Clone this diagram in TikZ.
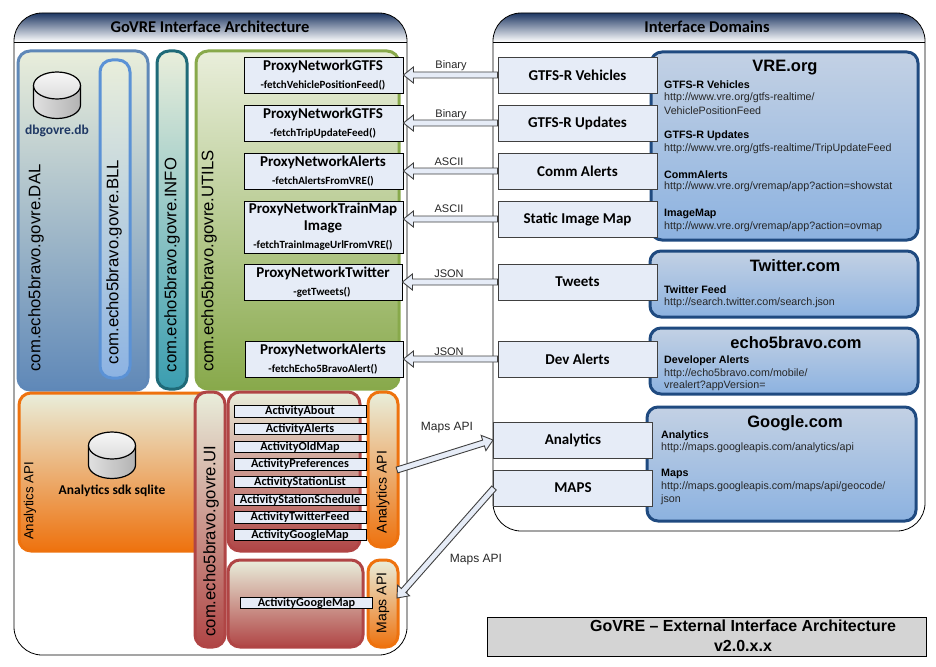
\documentclass[tikz,border=0pt]{standalone}
\usepackage{fontspec}
\setmainfont{Liberation Sans}
\newfontfamily\calfont{Carlito}
\usetikzlibrary{calc,positioning}
\newcommand{\fs}[1]{\fontsize{#1}{#1}\selectfont}
\definecolor{headdark}{HTML}{1F3864}
\definecolor{bluetop}{HTML}{E9EEDB}
\definecolor{dalblue}{HTML}{5F88B8}
\definecolor{bllblue}{HTML}{5B92D6}
\definecolor{tealb}{HTML}{1F6A78}
\definecolor{tealf}{HTML}{3A9DB0}
\definecolor{oliveb}{HTML}{88A94B}
\definecolor{orangeb}{HTML}{EE720E}
\definecolor{redb}{HTML}{B04545}
\definecolor{domb}{HTML}{1F4A80}
\definecolor{domt}{HTML}{C3D1E4}
\definecolor{domf}{HTML}{8CB2E0}
\definecolor{boxf}{HTML}{E6ECF7}
\tikzset{
 x=1pt,y=-1pt,
 panel/.style={draw=black,line width=.8pt,fill=white},
 pkgbox/.style 2 args={draw=#1,line width=3pt,rounded corners=12pt,top color=bluetop,bottom color=#2},
 pkglabel/.style={rotate=90,inner sep=0pt,font=\fs{16.7}},
 apilabel/.style={rotate=90,inner sep=0pt,font=\fs{14}},
 classbox/.style={draw=black,line width=.9pt,fill=boxf,inner sep=0pt},
 classname/.style={inner sep=0pt,font=\calfont\bfseries\fs{15}},
 methodtext/.style={inner sep=0pt,font=\calfont\bfseries\fs{11}},
 actbox/.style={classbox,minimum width=132pt,minimum height=11.5pt,font=\calfont\bfseries\fs{12.2}},
 ifacebox/.style={classbox,draw=black!75,minimum width=159pt,minimum height=36pt,font=\calfont\bfseries\fs{15}},
 domainbox/.style={draw=domb,line width=3pt,rounded corners=11pt,top color=domt,bottom color=domf},
 domtitle/.style={inner sep=0pt,font=\bfseries\fs{16.5}},
 domhead/.style={inner sep=0pt,anchor=west,yshift=-1pt,font=\bfseries\fs{10.7}},
 domurl/.style={inner sep=0pt,anchor=west,yshift=-1pt,font=\fs{10.7},text=black!85},
 flowtext/.style={inner sep=0pt,yshift=-1pt,font=\fs{11},text=black!85},
 mapflow/.style={inner sep=0pt,yshift=-1pt,font=\fs{12},text=black!85},
 arrowbody/.style={draw=black!75,line width=.9pt,fill=boxf,line join=miter},
 headtext/.style={inner sep=0pt,font=\calfont\bfseries\fs{16.5}},
}
\newcommand{\blockarrow}[2]{%
 \coordinate (neck) at ($(#2)!10pt!(#1)$);
 \draw[arrowbody] ($(#1)!3pt!90:(#2)$) -- ($(neck)!3pt!-90:(#1)$) -- ($(neck)!8pt!-90:(#1)$) -- (#2)
  -- ($(neck)!8pt!90:(#1)$) -- ($(neck)!3pt!90:(#1)$) -- ($(#1)!3pt!-90:(#2)$) -- cycle;
}
\newcommand{\dbcyl}[2]{% centre x, top y
 \shade[left color=black!12,right color=black!30] (#1-23.5,#2+13.5) -- (#1-23.5,#2+33) arc[start angle=180,end angle=360,x radius=23.5pt,y radius=13.5pt] -- (#1+23.5,#2+13.5) -- cycle;
 \draw[line width=1.2pt] (#1-23.5,#2+13.5) -- (#1-23.5,#2+33) arc[start angle=180,end angle=360,x radius=23.5pt,y radius=13.5pt] -- (#1+23.5,#2+13.5);
 \shade[top color=black!3,bottom color=black!14,draw=black,line width=1.2pt] (#1,#2+13.5) ellipse[x radius=23.5pt,y radius=13.5pt];
}
\begin{document}
\begin{tikzpicture}
\useasboundingbox (0,0) rectangle (936,666);
% panels
\draw[panel,rounded corners=28pt] (14,42) -- (14,655) -- (407,655) -- (407,42);
\draw[panel,rounded corners=28pt] (493,42) -- (493,531) -- (925,531) -- (925,42);
\shade[top color=headdark,bottom color=white,draw=black,line width=.8pt,rounded corners=28pt] (14,42) -- (14,13) -- (407,13) -- (407,42);
\shade[top color=headdark,bottom color=white,draw=black,line width=.8pt,rounded corners=28pt] (493,42) -- (493,13) -- (925,13) -- (925,42);
\draw[line width=.8pt] (14,42) -- (407,42) (493,42) -- (925,42);
\node[headtext] (h1) at (210,27) {GoVRE Interface Architecture};
\node[headtext] (h2) at (707,27) {Interface Domains};
% packages
\draw[pkgbox={dalblue}{dalblue}] (18,51) rectangle (148,390);
\draw[pkgbox={bllblue}{bllblue!70}] (100,60) rectangle (130,378);
\draw[pkgbox={tealb}{tealf}] (157,51) rectangle (187,389);
\draw[pkgbox={oliveb}{oliveb}] (196,51) rectangle (399,389);
\draw[orangeb,line width=3pt,rounded corners=12pt,top color=bluetop,bottom color=orangeb] (19,393) rectangle (215,551);
\draw[pkgbox={redb}{redb}] (195,392) rectangle (225,647);
\draw[pkgbox={redb}{redb}] (228,392) rectangle (360,551);
\draw[pkgbox={redb}{redb}] (228,560) rectangle (363,647);
\draw[pkgbox={orangeb}{orangeb}] (368,392) rectangle (398,547);
\draw[pkgbox={orangeb}{orangeb}] (368,560) rectangle (398,647);
\node[pkglabel] (ldal) at (36,268) {com.echo5bravo.govre.DAL};
\node[pkglabel] (lbll) at (114,262) {com.echo5bravo.govre.BLL};
\node[pkglabel] (linfo) at (172,265) {com.echo5bravo.govre.INFO};
\node[pkglabel] (lutils) at (209,261) {com.echo5bravo.govre.UTILS};
\node[pkglabel] (lui) at (211,541) {com.echo5bravo.govre.UI};
\node[apilabel,font=\fs{13.2}] (a1) at (30,501) {Analytics API};
\node[apilabel] (a2) at (383,492) {Analytics API};
\node[apilabel] (a3) at (383,603) {Maps API};
% databases
\dbcyl{57}{72}
\dbcyl{112}{432}
\node[inner sep=0pt,font=\calfont\bfseries\fs{13.5},text=headdark] (d1) at (57,131) {dbgovre.db};
\node[inner sep=0pt,font=\calfont\bfseries\fs{13.5}] (d2) at (112,491) {Analytics sdk sqlite};
% proxies
\node[classbox,minimum width=159pt,minimum height=36pt] (p1) at (323.5,75) {};
\node[classbox,minimum width=159pt,minimum height=36pt] (p2) at (323.5,123) {};
\node[classbox,minimum width=159pt,minimum height=36pt] (p3) at (323.5,171) {};
\node[classbox,minimum width=159pt,minimum height=52pt] (p4) at (323.5,227) {};
\node[classbox,minimum width=158pt,minimum height=36pt] (p5) at (323,282) {};
\node[classbox,minimum width=158pt,minimum height=36pt] (p6) at (324,359) {};
\node[classname] at (323,66.5) {ProxyNetworkGTFS};
\node[methodtext] at (323,85) {-fetchVehiclePositionFeed()};
\node[classname] at (323,114.5) {ProxyNetworkGTFS};
\node[methodtext] at (323,133) {-fetchTripUpdateFeed()};
\node[classname] at (323,162.5) {ProxyNetworkAlerts};
\node[methodtext] at (323,181) {-fetchAlertsFromVRE()};
\node[classname] at (323,209.5) {ProxyNetworkTrainMap};
\node[classname] at (323,227) {Image};
\node[methodtext] at (323,245) {-fetchTrainImageUrlFromVRE()};
\node[classname] at (323,273.5) {ProxyNetworkTwitter};
\node[methodtext] at (322,292) {-getTweets()};
\node[classname] at (323,350.5) {ProxyNetworkAlerts};
\node[methodtext] at (323,369) {-fetchEcho5BravoAlert()};
% activities
\foreach \n/\t/\y in {1/ActivityAbout/411.5,2/ActivityAlerts/429,3/ActivityOldMap/447,4/ActivityPreferences/464.5,5/ActivityStationList/482,6/ActivityStationSchedule/500,7/ActivityTwitterFeed/517.5,8/ActivityGoogleMap/535}
  \node[actbox] (act\n) at (300,\y) {\t};
\node[actbox] (act9) at (306.5,603) {ActivityGoogleMap};
% domains
\draw[domainbox] (651,52) rectangle (918,240);
\draw[domainbox] (650,251) rectangle (918,317);
\draw[domainbox] (650,328) rectangle (918,394);
\draw[domainbox] (647,407) rectangle (916,521);
% interface boxes
\node[ifacebox] (m1) at (577.5,75) {GTFS-R Vehicles};
\node[ifacebox] (m2) at (577.5,123) {GTFS-R Updates};
\node[ifacebox] (m3) at (577.5,171) {Comm Alerts};
\node[ifacebox] (m4) at (577.5,219) {Static Image Map};
\node[ifacebox] (m5) at (577.5,282) {Tweets};
\node[ifacebox] (m6) at (577.5,359) {Dev Alerts};
\node[ifacebox] (m7) at (573,440) {Analytics};
\node[ifacebox] (m8) at (573,488) {MAPS};
% domain text
\node[domtitle] at (785,68) {VRE.org};
\node[domhead] at (664,84) {GTFS-R Vehicles};
\node[domurl] at (664,97) {http://www.vre.org/gtfs-realtime/};
\node[domurl] at (664,110) {VehiclePositionFeed};
\node[domhead] at (664,135) {GTFS-R Updates};
\node[domurl] at (664,148) {http://www.vre.org/gtfs-realtime/TripUpdateFeed};
\node[domhead] at (664,174) {CommAlerts};
\node[domurl] at (664,186) {http://www.vre.org/vremap/app?action=showstat};
\node[domhead] at (664,213) {ImageMap};
\node[domurl] at (664,226) {http://www.vre.org/vremap/app?action=ovmap};
\node[domtitle] at (795,266) {Twitter.com};
\node[domhead] at (664,289) {Twitter Feed};
\node[domurl] at (664,302) {http://search.twitter.com/search.json};
\node[domtitle] at (796,343) {echo5bravo.com};
\node[domhead] at (664,360) {Developer Alerts};
\node[domurl] at (664,373) {http://echo5bravo.com/mobile/};
\node[domurl] at (664,385) {vrealert?appVersion=};
\node[domtitle] at (795,423) {Google.com};
\node[domhead] at (661,435) {Analytics};
\node[domurl] at (661,447) {http://maps.googleapis.com/analytics/api};
\node[domhead] at (661,473) {Maps};
\node[domurl] at (661,486) {http://maps.googleapis.com/maps/api/geocode/};
\node[domurl] at (661,499) {json};
% connectors
\blockarrow{m1.west}{p1.east}
\blockarrow{m2.west}{p2.east}
\blockarrow{m3.west}{p3.east}
\coordinate (p4in) at (p4.east |- m4.west);
\blockarrow{m4.west}{p4in}
\blockarrow{m5.west}{p5.east}
\blockarrow{m6.west}{p6.east}
\coordinate (anaout) at (397,470);
\coordinate (mapsin) at (397,598);
\coordinate (mapsout) at (494,488);
\blockarrow{anaout}{m7.west}
\blockarrow{mapsout}{mapsin}
\node[flowtext] at (451,65) {Binary};
\node[flowtext] at (451,114) {Binary};
\node[flowtext] at (449,161) {ASCII};
\node[flowtext] at (449,208) {ASCII};
\node[flowtext] at (449,273) {JSON};
\node[flowtext] at (449,351) {JSON};
\node[mapflow] at (447,427) {Maps API};
\node[mapflow] at (476,559) {Maps API};
% title
\node[draw=black,line width=.9pt,fill=black!17,minimum width=439pt,minimum height=39pt,inner sep=0pt] (tb) at (706.5,636.5) {};
\node[inner sep=0pt,font=\bfseries\fs{16}] at (743,626) {GoVRE – External Interface Architecture};
\node[inner sep=0pt,font=\bfseries\fs{16}] at (743,646) {v2.0.x.x};
\end{tikzpicture}
\end{document}
